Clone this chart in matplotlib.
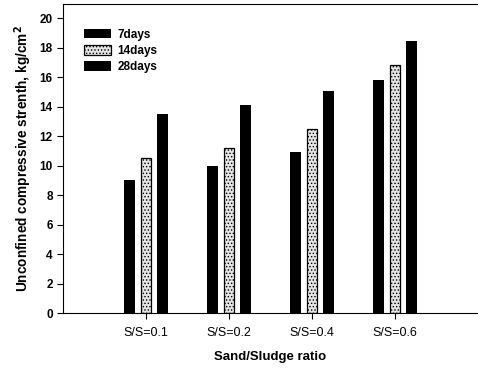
import numpy as np
import matplotlib
matplotlib.use("Agg")
import matplotlib.pyplot as plt

# --- data ---
categories = ["S/S=0.1", "S/S=0.2", "S/S=0.4", "S/S=0.6"]
days_7 = [9.0, 10.0, 10.9, 15.8]
days_14 = [10.5, 11.2, 12.5, 16.85]
days_28 = [13.5, 14.1, 15.05, 18.45]

plt.rcParams["font.family"] = ["Liberation Sans", "DejaVu Sans"]
plt.rcParams["hatch.color"] = "#777777"
plt.rcParams["hatch.linewidth"] = 0.6

fig = plt.figure(figsize=(4.78, 3.74), dpi=100)
ax = fig.add_axes([0.132, 0.163, 0.868, 0.826])

x = np.arange(1, len(categories) + 1)
w = 0.13
ax.bar(x - 0.2, days_7, w, color="black", label="7days")
ax.bar(x, days_14, w, facecolor="#e4e4e4", edgecolor="black", linewidth=0.9,
       hatch=".....", label="14days")
ax.bar(x + 0.2, days_28, w, color="black", label="28days")

ax.set_xlim(0, 5)
ax.set_ylim(0, 20.95)
ax.set_xticks(x)
ax.set_xticklabels(categories, fontsize=9)
ax.set_yticks(np.arange(0, 21, 2))
ax.tick_params(axis="y", labelsize=8.5)
ax.tick_params(direction="out", length=4)
ax.tick_params(axis="x", pad=6)
for lab in ax.get_yticklabels():
    lab.set_fontweight("bold")
ax.spines["right"].set_visible(False)

ax.set_xlabel("Sand/Sludge ratio", fontsize=9.5, fontweight="bold", labelpad=9)
ax.set_ylabel("Unconfined compressive strenth, kg/cm$^\\mathbf{2}$", fontsize=9.8,
              fontweight="bold", labelpad=4)

leg = ax.legend(loc="upper left", frameon=False, fontsize=8.5, handlelength=2.3,
                handleheight=0.9, labelspacing=0.35, handletextpad=0.5,
                bbox_to_anchor=(0.025, 0.955))
for t in leg.get_texts():
    t.set_fontweight("bold")

fig.savefig("out.png", dpi=100)
